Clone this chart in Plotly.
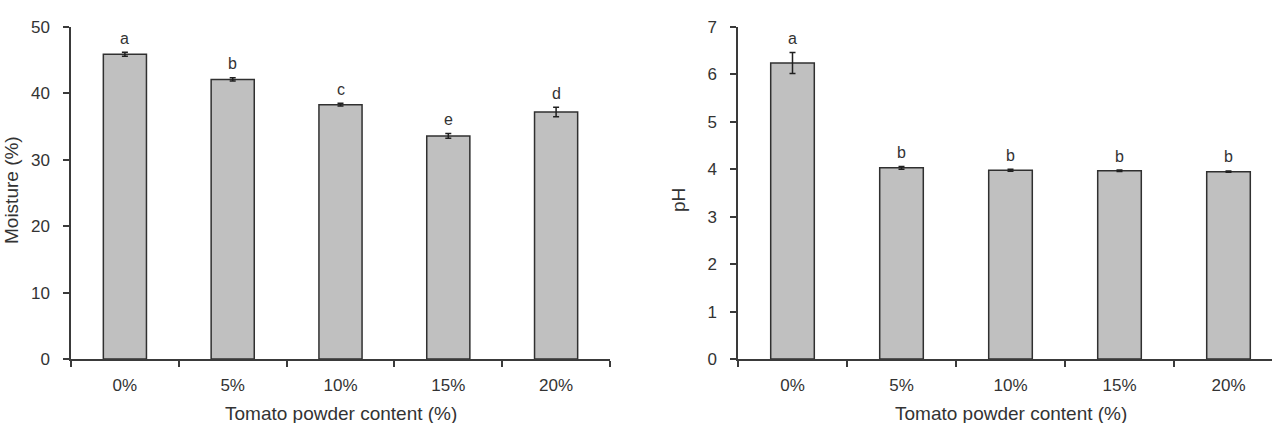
import plotly.graph_objects as go

categories = ["0%", "5%", "10%", "15%", "20%"]
moisture = [45.9, 42.1, 38.3, 33.6, 37.2]
moisture_err = [0.3, 0.25, 0.2, 0.35, 0.7]
moisture_letters = ["a", "b", "c", "e", "d"]
ph = [6.24, 4.03, 3.98, 3.97, 3.95]
ph_err = [0.22, 0.03, 0.02, 0.015, 0.015]
ph_letters = ["a", "b", "b", "b", "b"]

W, H = 1272, 423
FONT = "Liberation Sans, Arial, sans-serif"
TXT = "#333333"
AX = "#3a3a3a"

fig = go.Figure()
bar_style = dict(marker=dict(color="#c0c0c0", line=dict(color="#303030", width=1.5)),
                 width=0.4, showlegend=False)
err_style = dict(type="data", visible=True, color="#202020", thickness=1.5, width=3)

fig.add_trace(go.Bar(x=categories, y=moisture,
                     error_y=dict(array=moisture_err, **err_style),
                     xaxis="x", yaxis="y", **bar_style))
fig.add_trace(go.Bar(x=categories, y=ph,
                     error_y=dict(array=ph_err, **err_style),
                     xaxis="x2", yaxis="y2", **bar_style))

ax_common = dict(showline=True, linecolor=AX, linewidth=1.5, ticks="outside",
                 tickcolor=AX, tickwidth=1.5, ticklen=6, showgrid=False, zeroline=False,
                 tickfont=dict(family=FONT, size=17, color=TXT))
x_common = dict(type="category", tickson="boundaries", ticklabelstandoff=10, **ax_common)
y_common = dict(ticklabelstandoff=10, **ax_common)

fig.update_layout(
    width=W, height=H, margin=dict(l=0, r=0, t=27, b=64),
    paper_bgcolor="white", plot_bgcolor="white",
    font=dict(family=FONT, color=TXT),
    xaxis=dict(domain=[71 / W, 610 / W], range=[-0.5, 4.5], anchor="y", **x_common),
    yaxis=dict(range=[0, 50], tickvals=[0, 10, 20, 30, 40, 50], anchor="x", **y_common),
    xaxis2=dict(domain=[738 / W, 1.0], range=[-0.5, -0.5 + (W - 738) / 109.0],
                anchor="y2", **x_common),
    yaxis2=dict(range=[0, 7], tickvals=list(range(8)), anchor="x2", **y_common),
)

annotations = []
for c, v, e, l in zip(categories, moisture, moisture_err, moisture_letters):
    annotations.append(dict(x=c, y=v + e, xref="x", yref="y", text=l, showarrow=False,
                            yshift=14, font=dict(family=FONT, size=16, color=TXT)))
for c, v, e, l in zip(categories, ph, ph_err, ph_letters):
    annotations.append(dict(x=c, y=v + e, xref="x2", yref="y2", text=l, showarrow=False,
                            yshift=14, font=dict(family=FONT, size=16, color=TXT)))

title_font = dict(family=FONT, size=19, color=TXT)
py = lambda p: (359 - p) / 332.0
annotations += [
    dict(x=(71 + 610) / 2 / W, y=py(413), xref="paper", yref="paper", xanchor="center",
         yanchor="middle", text="Tomato powder content (%)", showarrow=False, font=title_font),
    dict(x=(738 + 1283) / 2 / W, y=py(413), xref="paper", yref="paper", xanchor="center",
         yanchor="middle", text="Tomato powder content (%)", showarrow=False, font=title_font),
    dict(x=11 / W, y=py(190), xref="paper", yref="paper", xanchor="center", yanchor="middle",
         text="Moisture (%)", textangle=-90, showarrow=False, font=title_font),
    dict(x=678 / W, y=py(200), xref="paper", yref="paper", xanchor="center", yanchor="middle",
         text="pH", textangle=-90, showarrow=False, font=title_font),
]
fig.update_layout(annotations=annotations)

fig.write_html("out.html")
